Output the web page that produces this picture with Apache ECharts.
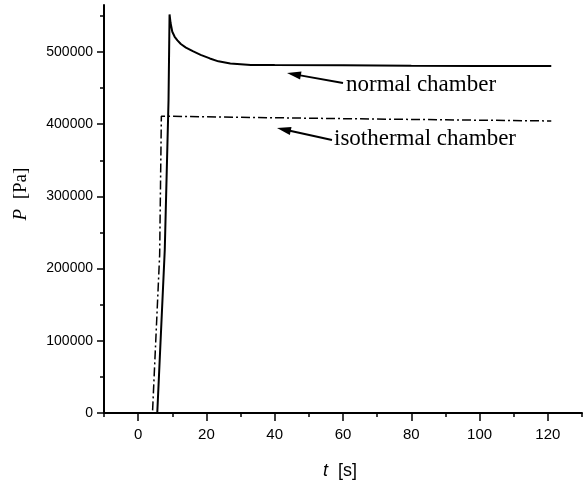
<!DOCTYPE html>
<html>
<head>
<meta charset="utf-8">
<script src="https://cdn.jsdelivr.net/npm/echarts@6/dist/echarts.min.js"></script>
<style>
html,body{margin:0;padding:0;background:#fff;}
#chart{width:584px;height:482px;}
</style>
</head>
<body>
<div id="chart"></div>
<script>
// ---- data ----
var normalT = [0, 5.6, 7.8, 8.9, 9.2, 9.5, 10.0, 10.7, 11.5, 12.5, 14.0, 16.0, 18.3, 21.0, 23.5, 27, 33, 40, 60, 80, 100, 121];
var normalP = [0, 0, 226000, 433000, 552000, 540000, 528000, 521000, 516000, 511000, 506000, 501000, 496000, 491000, 487000, 484000, 482000, 481800, 481400, 481000, 480700, 480500];
var isoT = [0, 4.2, 6.3, 6.8, 10, 30, 60, 90, 121];
var isoP = [0, 0, 219000, 411000, 410800, 409500, 407600, 406000, 404400];
var xTickLabels = [0, 20, 40, 60, 80, 100, 120];
var xMinorTicks = [-10, 0, 10, 20, 30, 40, 50, 60, 70, 80, 90, 100, 110, 120, 130];
var yTickLabels = [0, 100000, 200000, 300000, 400000, 500000];
var yMinorTicks = [0, 50000, 100000, 150000, 200000, 250000, 300000, 350000, 400000, 450000, 500000, 550000];
var labelNormal = 'normal chamber';
var labelIso = 'isothermal chamber';

function zip(a, b) { return a.map(function (v, i) { return [v, b[i]]; }); }

function arrow(tx, ty, hx, hy) {
  var dx = hx - tx, dy = hy - ty, L = Math.sqrt(dx * dx + dy * dy);
  var ux = dx / L, uy = dy / L, nx = -uy, ny = ux;
  var bx = hx - 14 * ux, by = hy - 14 * uy;
  return [
    { type: 'line', shape: { x1: tx, y1: ty, x2: bx + 2 * ux, y2: by + 2 * uy }, style: { stroke: '#000', lineWidth: 2 } },
    { type: 'polygon', shape: { points: [[hx, hy], [bx + 4 * nx, by + 4 * ny], [bx - 4 * nx, by - 4 * ny]] }, style: { fill: '#000' } }
  ];
}

var chart = echarts.init(document.getElementById('chart'), null, { renderer: 'canvas' });
var sansFont = '"Liberation Sans", Arial, sans-serif';
var serifFont = '"Liberation Serif", "Times New Roman", serif';

var graphics = [].concat(
  arrow(343, 83, 287, 73),
  arrow(332, 140, 277, 128),
  [
    { type: 'text', left: 346, top: 73, style: { text: labelNormal, font: '23px ' + serifFont, fill: '#000' } },
    { type: 'text', left: 334, top: 127, style: { text: labelIso, font: '23px ' + serifFont, fill: '#000' } },
    { type: 'text', x: 340, y: 471, style: {
        text: '{i|t}  [s]', align: 'center', verticalAlign: 'middle', font: '18px ' + sansFont, fill: '#000',
        rich: { i: { fontStyle: 'italic', fontFamily: sansFont, fontSize: 18 } } } },
    { type: 'text', x: 21, y: 194, rotation: Math.PI / 2, style: {
        text: '{i|P}  [Pa]', align: 'center', verticalAlign: 'middle', font: '19px ' + serifFont, fill: '#000',
        rich: { i: { fontStyle: 'italic', fontFamily: serifFont, fontSize: 19 } } } }
  ]
);

function plain(v) { return String(v); }

chart.setOption({
  animation: false,
  backgroundColor: '#fff',
  grid: { left: 104, right: 2, top: 5, bottom: 69, containLabel: false },
  xAxis: [
    {
      type: 'value', min: -10, max: 130, interval: 10,
      axisLine: { show: true, onZero: false, lineStyle: { color: '#000', width: 2 } },
      axisTick: { show: true, length: 4, lineStyle: { color: '#000', width: 1.5 }, customValues: xMinorTicks },
      axisLabel: { show: true, margin: 14, color: '#000', fontFamily: sansFont, fontSize: 15, customValues: xTickLabels, formatter: plain },
      splitLine: { show: false }
    },
    {
      type: 'value', min: -10, max: 130, interval: 10, position: 'bottom',
      axisLine: { show: false, onZero: false },
      axisTick: { show: true, length: 8, lineStyle: { color: '#000', width: 1.5 }, customValues: xTickLabels },
      axisLabel: { show: false },
      splitLine: { show: false }
    }
  ],
  yAxis: [
    {
      type: 'value', min: 0, max: 565000, interval: 50000,
      axisLine: { show: true, onZero: false, lineStyle: { color: '#000', width: 2 } },
      axisTick: { show: true, length: 4, lineStyle: { color: '#000', width: 1.5 }, customValues: yMinorTicks },
      axisLabel: { show: true, margin: 11, color: '#000', fontFamily: sansFont, fontSize: 14, customValues: yTickLabels, formatter: plain },
      splitLine: { show: false }
    },
    {
      type: 'value', min: 0, max: 565000, interval: 50000, position: 'left',
      axisLine: { show: false, onZero: false },
      axisTick: { show: true, length: 7, lineStyle: { color: '#000', width: 1.5 }, customValues: yTickLabels },
      axisLabel: { show: false },
      splitLine: { show: false }
    }
  ],
  series: [
    {
      name: labelNormal, type: 'line', xAxisIndex: 0, yAxisIndex: 0,
      data: zip(normalT, normalP), showSymbol: false, symbol: 'none',
      lineStyle: { color: '#000', width: 2 }, z: 3
    },
    {
      name: labelIso, type: 'line', xAxisIndex: 0, yAxisIndex: 0,
      data: zip(isoT, isoP), showSymbol: false, symbol: 'none',
      lineStyle: { color: '#000', width: 1.5, type: [9, 3, 2, 3] }, z: 2
    }
  ],
  graphic: graphics
});
</script>
</body>
</html>
